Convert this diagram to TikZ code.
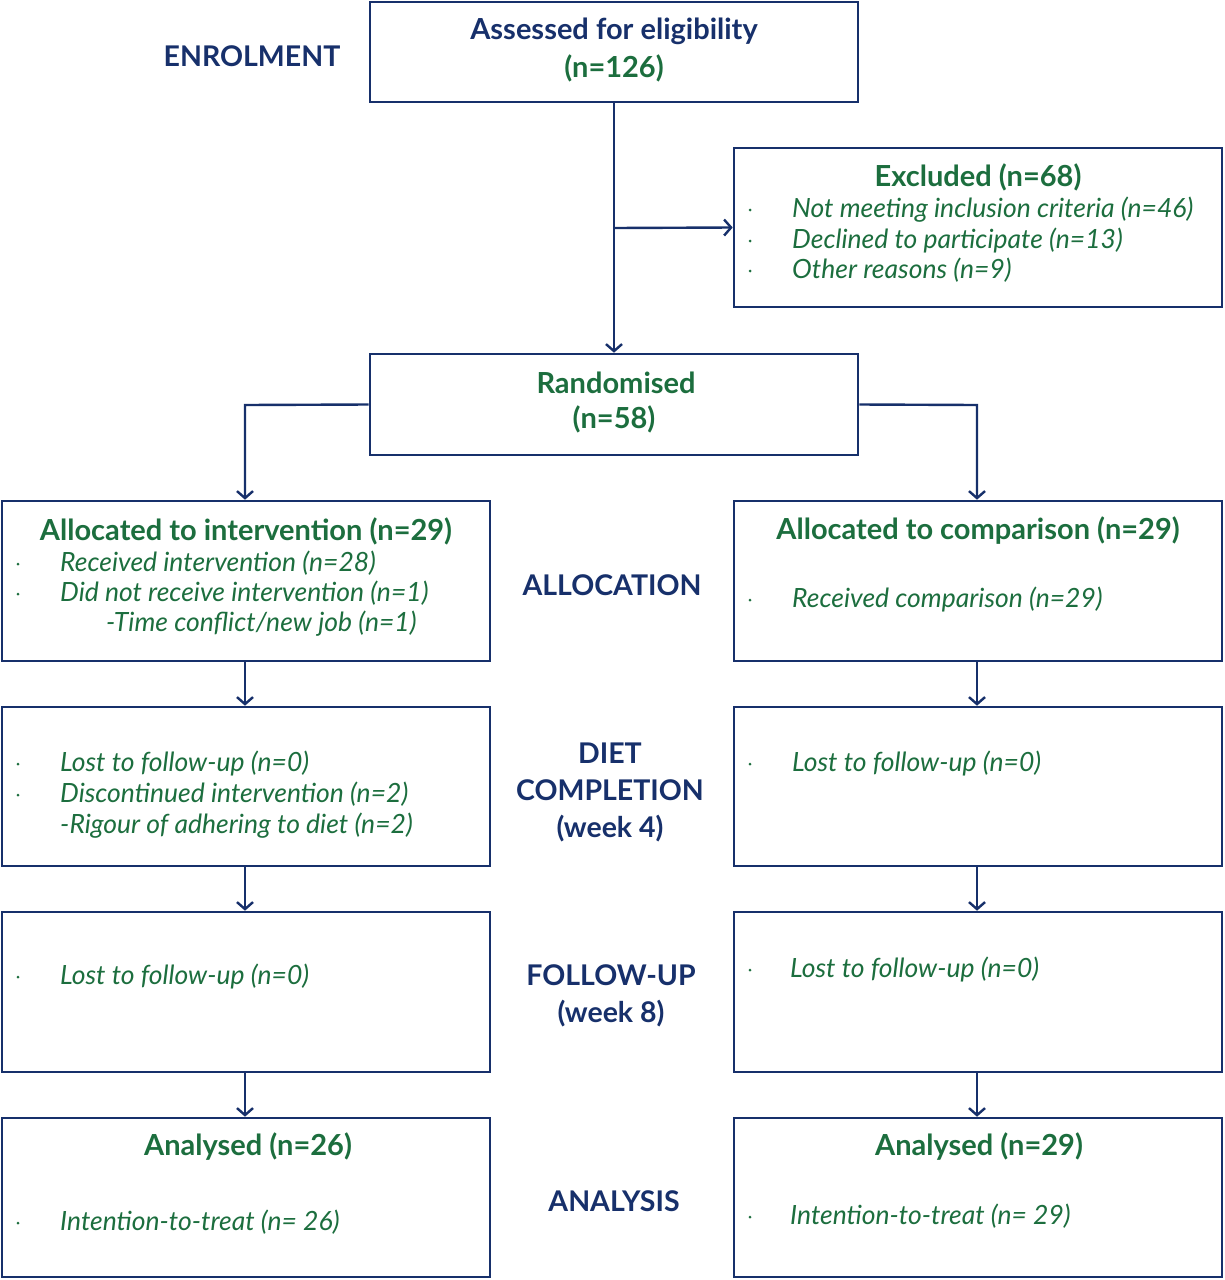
\documentclass[tikz,border=0pt]{standalone}
\usepackage{fontspec}
\setmainfont{Lato}
\usetikzlibrary{arrows.meta}
\definecolor{navy}{HTML}{17306B}
\definecolor{dgreen}{HTML}{1C6E3E}
\begin{document}
\begin{tikzpicture}[x=1pt,y=-1pt,
  box/.style={draw=navy,line width=2.6pt,fill=white,inner sep=0pt},
  arr/.style={draw=navy,line width=2.4pt,-{Straight Barb[length=7pt,width=16pt,line width=2.4pt]}},
  ttl/.style={font=\fontsize{29}{34}\selectfont\bfseries,text=dgreen,inner sep=0pt},
  navyttl/.style={font=\fontsize{29}{34}\selectfont\bfseries,text=navy,inner sep=0pt},
  stage/.style={font=\fontsize{28.5}{37}\selectfont\bfseries,text=navy,align=center,inner sep=0pt},
  item/.style={font=\fontsize{26.5}{30}\selectfont\itshape,text=dgreen,inner sep=0pt,anchor=mid west},
  bul/.style={fill=dgreen,circle,inner sep=0pt,minimum size=3pt}
]
\useasboundingbox[fill=white] (0,0) rectangle (1224,1280);
% boxes
\node[box,minimum width=488pt,minimum height=100pt] (assess) at (614,52) {};
\node[box,minimum width=488pt,minimum height=159pt] (excl) at (978,227.5) {};
\node[box,minimum width=488pt,minimum height=101pt] (rand) at (614,404.5) {};
\node[box,minimum width=488pt,minimum height=160pt] (alI) at (246,581) {};
\node[box,minimum width=488pt,minimum height=160pt] (alC) at (978,581) {};
\node[box,minimum width=488pt,minimum height=159pt] (dI) at (246,786.5) {};
\node[box,minimum width=488pt,minimum height=159pt] (dC) at (978,786.5) {};
\node[box,minimum width=488pt,minimum height=160pt] (fI) at (246,992) {};
\node[box,minimum width=488pt,minimum height=160pt] (fC) at (978,992) {};
\node[box,minimum width=488pt,minimum height=159pt] (aI) at (246,1197.5) {};
\node[box,minimum width=488pt,minimum height=159pt] (aC) at (978,1197.5) {};
% connectors
\coordinate (split) at (614,228);
\draw[arr] (assess.south) -- (rand.north);
\draw[arr] (split) -- (excl.west);
\coordinate (rl) at (245,405);
\coordinate (rr) at (977,405);
\draw[arr] (rand.west) -- (rl) -- (alI.north -| rl);
\draw[arr] (rand.east) -- (rr) -- (alC.north -| rr);
\draw[arr] (alI.south -| rl) -- (dI.north -| rl);
\draw[arr] (dI.south -| rl) -- (fI.north -| rl);
\draw[arr] (fI.south -| rl) -- (aI.north -| rl);
\draw[arr] (alC.south -| rr) -- (dC.north -| rr);
\draw[arr] (dC.south -| rr) -- (fC.north -| rr);
\draw[arr] (fC.south -| rr) -- (aC.north -| rr);
% stage labels
\node[stage] (sEnr) at (252,56) {ENROLMENT};
\node[stage] (sAll) at (612,585) {ALLOCATION};
\node[stage] (sDiet) at (610,792) {DIET\\COMPLETION\\(week 4)};
\node[stage] (sFol) at (611,996) {FOLLOW-UP\\(week 8)};
\node[stage] (sAna) at (614,1201) {ANALYSIS};
% assessed
\node[navyttl] (tAss) at (614,31) {Assessed for eligibility};
\node[ttl] (tAssN) at (614,68) {(n=126)};
% excluded
\node[ttl] (tExc) at (978,177) {Excluded (n=68)};
\node[bul] at (750,210) {}; \node[item] at (792,215) {Not meeting inclusion criteria (n=46)};
\node[bul] at (750,241) {}; \node[item] at (792,246) {Declined to participate (n=13)};
\node[bul] at (750,271) {}; \node[item] at (792,276) {Other reasons (n=9)};
% randomised
\node[ttl] (tRand) at (616,383) {Randomised};
\node[ttl] (tRandN) at (614,419) {(n=58)};
% allocation
\node[ttl] at (246,531) {Allocated to intervention (n=29)};
\node[bul] at (18,564) {}; \node[item] at (60,569) {Received intervention (n=28)};
\node[bul] at (18,594) {}; \node[item] at (60,599) {Did not receive intervention (n=1)};
\node[item] at (106,629) {-Time conflict/new job (n=1)};
\node[ttl] at (978,531) {Allocated to comparison (n=29)};
\node[bul] at (750,600) {}; \node[item] at (792,605) {Received comparison (n=29)};
% diet
\node[bul] at (18,764) {}; \node[item] at (60,769) {Lost to follow-up (n=0)};
\node[bul] at (18,795) {}; \node[item] at (60,800) {Discontinued intervention (n=2)};
\node[item] at (60,831) {-Rigour of adhering to diet (n=2)};
\node[bul] at (750,764) {}; \node[item] at (792,769) {Lost to follow-up (n=0)};
% follow-up
\node[bul] at (18,977) {}; \node[item] at (60,982) {Lost to follow-up (n=0)};
\node[bul] at (750,970) {}; \node[item] at (790,975) {Lost to follow-up (n=0)};
% analysed
\node[ttl] at (248,1147) {Analysed (n=26)};
\node[bul] at (18,1223) {}; \node[item] at (60,1228) {Intention-to-treat (n= 26)};
\node[ttl] at (979,1147) {Analysed (n=29)};
\node[bul] at (750,1217) {}; \node[item] at (790,1222) {Intention-to-treat (n= 29)};
\end{tikzpicture}
\end{document}
